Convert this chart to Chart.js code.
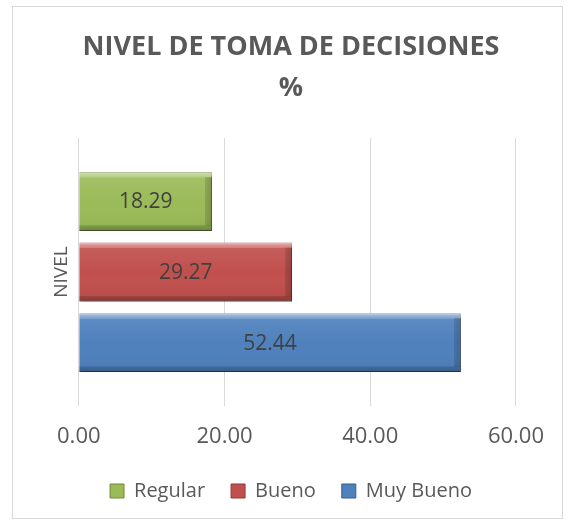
<!DOCTYPE html>
<html>
<head>
<meta charset="utf-8">
<script src="https://cdn.jsdelivr.net/npm/chart.js@4/dist/chart.umd.min.js"></script>
<style>
  html, body { margin: 0; padding: 0; background: #fff; }
  #box { position: absolute; left: 12px; top: 6px; width: 549px; height: 511px; border: 1px solid #d9d9d9; }
  canvas { display: block; }
</style>
</head>
<body>
<div id="box"><canvas id="c" width="549" height="511"></canvas></div>
<script>
const categories = ['NIVEL'];
const seriesNames = ['Regular', 'Bueno', 'Muy Bueno'];
const regularValues = [18.29];
const buenoValues = [29.27];
const muyBuenoValues = [52.44];
const xTicks = [0, 20, 40, 60];
const titleLines = ['NIVEL DE TOMA DE DECISIONES', '%'];

const fills = ['#9bbb59', '#c0504d', '#4f81bd'];
const borders = ['#71893f', '#8c3836', '#385d8a'];
const FONT = "'Open Sans', 'Liberation Sans', sans-serif";

const bevel = {
  id: 'bevel',
  beforeDatasetsDraw(chart) {
    const c = chart.ctx;
    c.save();
    c.shadowColor = 'rgba(0,0,0,0.30)';
    c.shadowBlur = 4;
    c.shadowOffsetX = 1;
    c.shadowOffsetY = 2;
  },
  afterDatasetsDraw(chart) {
    const c = chart.ctx;
    c.restore();
    chart.data.datasets.forEach((ds, i) => {
      const meta = chart.getDatasetMeta(i);
      meta.data.forEach((bar, j) => {
        const p = bar.getProps(['x', 'y', 'base', 'height'], true);
        const top = p.y - p.height / 2, h = p.height;
        const left = Math.min(p.x, p.base), w = Math.abs(p.x - p.base);
        c.save();
        const g = c.createLinearGradient(0, top, 0, top + h);
        g.addColorStop(0, 'rgba(255,255,255,0.55)');
        g.addColorStop(0.09, 'rgba(255,255,255,0.25)');
        g.addColorStop(0.10, 'rgba(255,255,255,0.08)');
        g.addColorStop(0.5, 'rgba(255,255,255,0)');
        g.addColorStop(0.90, 'rgba(0,0,0,0.04)');
        g.addColorStop(0.91, 'rgba(0,0,0,0.18)');
        g.addColorStop(1, 'rgba(0,0,0,0.30)');
        c.fillStyle = g;
        c.fillRect(left, top, w, h);
        const gr = c.createLinearGradient(left + w - 7, 0, left + w, 0);
        gr.addColorStop(0, 'rgba(0,0,0,0)');
        gr.addColorStop(0.01, 'rgba(0,0,0,0.12)');
        gr.addColorStop(1, 'rgba(0,0,0,0.22)');
        c.fillStyle = gr;
        c.fillRect(left + w - 7, top + 5, 7, h - 10);
        c.fillStyle = '#404040';
        c.font = '21px ' + FONT;
        c.textAlign = 'center';
        c.textBaseline = 'middle';
        c.fillText(ds.data[j].toFixed(2), left + w / 2, p.y + 1);
        c.restore();
      });
    });
  }
};

new Chart(document.getElementById('c'), {
  type: 'bar',
  data: {
    labels: categories,
    datasets: [
      { label: seriesNames[0], data: regularValues, backgroundColor: fills[0], borderColor: borders[0], borderWidth: 1 },
      { label: seriesNames[1], data: buenoValues, backgroundColor: fills[1], borderColor: borders[1], borderWidth: 1 },
      { label: seriesNames[2], data: muyBuenoValues, backgroundColor: fills[2], borderColor: borders[2], borderWidth: 1 }
    ]
  },
  options: {
    indexAxis: 'y',
    responsive: false,
    animation: false,
    categoryPercentage: 0.79,
    barPercentage: 0.835,
    layout: { padding: { left: 53, right: 46, top: 0, bottom: 7 } },
    plugins: {
      title: {
        display: true,
        text: titleLines,
        color: '#595959',
        font: { family: FONT, size: 27, weight: 'bold', lineHeight: 1.52 },
        padding: { top: 20, bottom: 29 }
      },
      legend: {
        position: 'bottom',
        labels: {
          color: '#595959',
          font: { family: FONT, size: 20 },
          boxWidth: 14,
          boxHeight: 14,
          padding: 26
        }
      },
      tooltip: { enabled: false }
    },
    scales: {
      x: {
        min: 0,
        max: 60,
        afterBuildTicks(scale) { scale.ticks = xTicks.map(v => ({ value: v })); },
        afterFit(scale) { scale.height = 49; },
        ticks: {
          color: '#595959',
          font: { family: FONT, size: 22 },
          padding: 18,
          callback: v => Number(v).toFixed(2)
        },
        grid: { color: '#d9d9d9', drawTicks: false, lineWidth: 1 },
        border: { display: false }
      },
      y: {
        ticks: { display: false },
        grid: { display: false, drawTicks: false },
        border: { display: false },
        title: {
          display: true,
          text: categories[0],
          color: '#595959',
          font: { family: FONT, size: 19 },
          padding: { top: -16, bottom: 6 }
        }
      }
    }
  },
  plugins: [bevel]
});
</script>
</body>
</html>
